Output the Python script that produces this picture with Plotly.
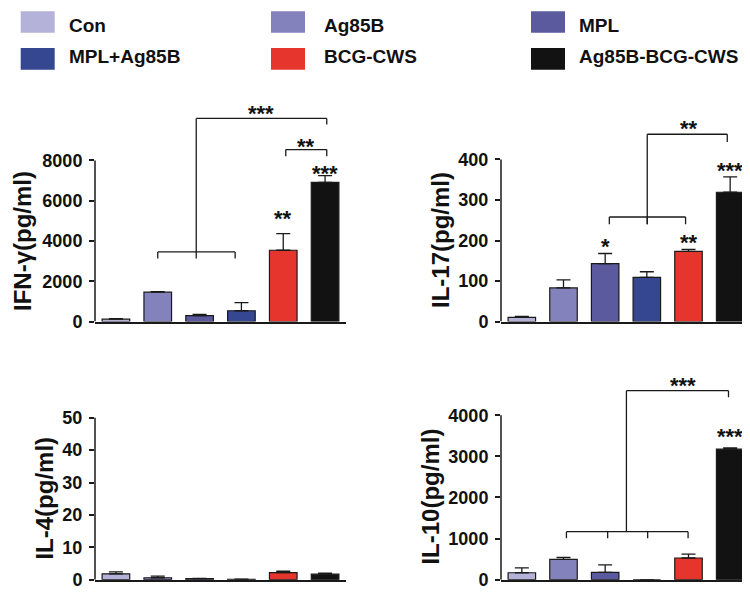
import plotly.graph_objects as go

# ---------------- data ----------------
groups = ["Con", "Ag85B", "MPL", "MPL+Ag85B", "BCG-CWS", "Ag85B-BCG-CWS"]
colors = ["#b4b2d9", "#8482bd", "#5b5a9f", "#364791", "#e5352d", "#121212"]

ifn_mean = [120, 1460, 295, 540, 3540, 6910]
ifn_err = [30, 25, 60, 400, 830, 330]

il17_mean = [10.5, 83, 143, 109, 173, 319]
il17_err = [2.5, 20, 25, 14, 5, 38]

il4_mean = [1.8, 0.6, 0.3, 0.1, 2.2, 1.7]
il4_err = [0.6, 0.5, 0.1, 0.05, 0.4, 0.3]

il10_mean = [168, 496, 176, 0, 528, 3176]
il10_err = [120, 48, 184, 0, 96, 32]

ifn_ticks = [0, 2000, 4000, 6000, 8000]
il17_ticks = [0, 100, 200, 300, 400]
il4_ticks = [0, 10, 20, 30, 40, 50]
il10_ticks = [0, 1000, 2000, 3000, 4000]

titles = ["IFN-γ(pg/ml)", "IL-17(pg/ml)", "IL-4(pg/ml)", "IL-10(pg/ml)"]

# significance brackets: (y of bar, [(x, lower y of vertical), ...])
ifn_brackets = [(3456, [(1, 3132), (2.85, 3132)]),
                (10083, [(1.92, 3132), (5.04, 9785)]),
                (8537, [(4.06, 8210), (5.04, 8210)])]
il17_brackets = [(258, [(2.1, 240), (3.01, 240), (3.93, 240)]),
                 (462, [(3.01, 240), (4.93, 443)])]
il10_brackets = [(1168, [(1.07, 1008), (2.06, 1008), (3.02, 1008), (3.99, 1008)]),
                 (4600, [(2.51, 1168), (4.96, 4440)])]

# significance labels: (x, y, text)
ifn_stars = [(4, 5404, "**"), (5, 7624, "***"), (3.47, 10600, "***"), (4.54, 9010, "**")]
il17_stars = [(2, 200, "*"), (4, 210, "**"), (5, 387, "***"), (4.02, 492, "**")]
il4_stars = []
il10_stars = [(5, 3624, "***"), (3.86, 4864, "***")]

# ---------------- layout helpers ----------------
W, H = 750, 592
def px_x(x):
    return x / W
def px_y(y):
    return 1 - y / H

FONT = "Liberation Sans, Arial, sans-serif"

panels = [
    dict(mean=ifn_mean, err=ifn_err, ticks=ifn_ticks, br=ifn_brackets, st=ifn_stars,
         xd=[87, 338], yd=[319, 93.5], top=11000, title=titles[0], tx=15, ty=237),
    dict(mean=il17_mean, err=il17_err, ticks=il17_ticks, br=il17_brackets, st=il17_stars,
         xd=[493, 743], yd=[319, 93.5], top=546.7, title=titles[1], tx=432, ty=236),
    dict(mean=il4_mean, err=il4_err, ticks=il4_ticks, br=[], st=il4_stars,
         xd=[87, 338], yd=[581.5, 370], top=64.2, title=titles[2], tx=37, ty=499),
    dict(mean=il10_mean, err=il10_err, ticks=il10_ticks, br=il10_brackets, st=il10_stars,
         xd=[493, 743], yd=[581.5, 370], top=5060, title=titles[3], tx=423, ty=497),
]

fig = go.Figure()
shapes = []
annotations = []
x_pos = list(range(len(groups)))

for i, p in enumerate(panels):
    n = "" if i == 0 else str(i + 1)
    xa, ya = "x" + n, "y" + n
    fig.add_trace(go.Bar(
        x=x_pos, y=p["mean"], xaxis=xa, yaxis=ya, width=0.66,
        marker=dict(color=colors, line=dict(color="#1a1a1a", width=1.2)),
        error_y=dict(type="data", array=p["err"], arrayminus=[0] * len(groups),
                     symmetric=False, color="#1a1a1a", thickness=1.3, width=7),
        showlegend=False, hoverinfo="skip",
    ))
    fig.update_layout(**{
        ("xaxis" + n): dict(domain=[px_x(p["xd"][0]), px_x(p["xd"][1])], range=[-0.5, 5.5],
                            showline=True, linecolor="#1a1a1a", linewidth=1.5,
                            showticklabels=False, ticks="", showgrid=False, zeroline=False,
                            anchor=ya),
        ("yaxis" + n): dict(domain=[px_y(p["yd"][0]), px_y(p["yd"][1])], range=[0, p["top"]],
                            showline=False, showgrid=False, zeroline=False,
                            tickvals=p["ticks"], ticks="outside", ticklen=5, tickwidth=1.5,
                            tickcolor="#1a1a1a", ticklabelstandoff=3,
                            tickfont=dict(family=FONT, size=18, color="#111111", weight="bold"),
                            anchor=xa),
    })
    # visible y axis line only up to last tick
    shapes.append(dict(type="line", xref=xa + " domain", yref=ya, x0=0, x1=0,
                       y0=0, y1=p["ticks"][-1], line=dict(color="#1a1a1a", width=1.5)))
    # brackets
    for yb, ticks in p["br"]:
        xs = [t[0] for t in ticks]
        shapes.append(dict(type="line", xref=xa, yref=ya, x0=min(xs), x1=max(xs),
                           y0=yb, y1=yb, line=dict(color="#1a1a1a", width=1.3)))
        for xt, ylow in ticks:
            shapes.append(dict(type="line", xref=xa, yref=ya, x0=xt, x1=xt,
                               y0=ylow, y1=yb, line=dict(color="#1a1a1a", width=1.3)))
    for xs_, ys_, txt in p["st"]:
        annotations.append(dict(x=xs_, y=ys_, xref=xa, yref=ya, text=txt, showarrow=False,
                                yanchor="middle", xanchor="center", yshift=-6,
                                font=dict(family=FONT, size=22, color="#111111", weight="bold")))
    annotations.append(dict(x=px_x(p["tx"]), y=px_y(p["ty"]), xref="paper", yref="paper",
                            text=p["title"], textangle=-90, showarrow=False,
                            xanchor="center", yanchor="middle",
                            font=dict(family=FONT, size=24, color="#111111", weight="bold")))

# legend drawn as colored squares + labels
leg_sq_x = [12.7, 263, 523]
leg_tx_x = [59, 314, 569]
leg_sq_y = [3.3, 40.7]
leg_tx_y = [17.5, 49]
for k, (g, c) in enumerate(zip(groups, colors)):
    r, col = divmod(k, 3)
    shapes.append(dict(type="rect", xref="paper", yref="paper",
                       x0=px_x(leg_sq_x[col]), x1=px_x(leg_sq_x[col] + 34),
                       y0=px_y(leg_sq_y[r] + 22), y1=px_y(leg_sq_y[r]),
                       fillcolor=c, line=dict(width=0)))
    annotations.append(dict(x=px_x(leg_tx_x[col]), y=px_y(leg_tx_y[r]), xref="paper", yref="paper",
                            text=g, showarrow=False, xanchor="left", yanchor="middle",
                            font=dict(family=FONT, size=19, color="#111111", weight="bold")))

fig.update_layout(width=W, height=H, margin=dict(l=0, r=0, t=0, b=0),
                  plot_bgcolor="white", paper_bgcolor="white",
                  shapes=shapes, annotations=annotations, bargap=0.3)

fig.write_html("out.html")
